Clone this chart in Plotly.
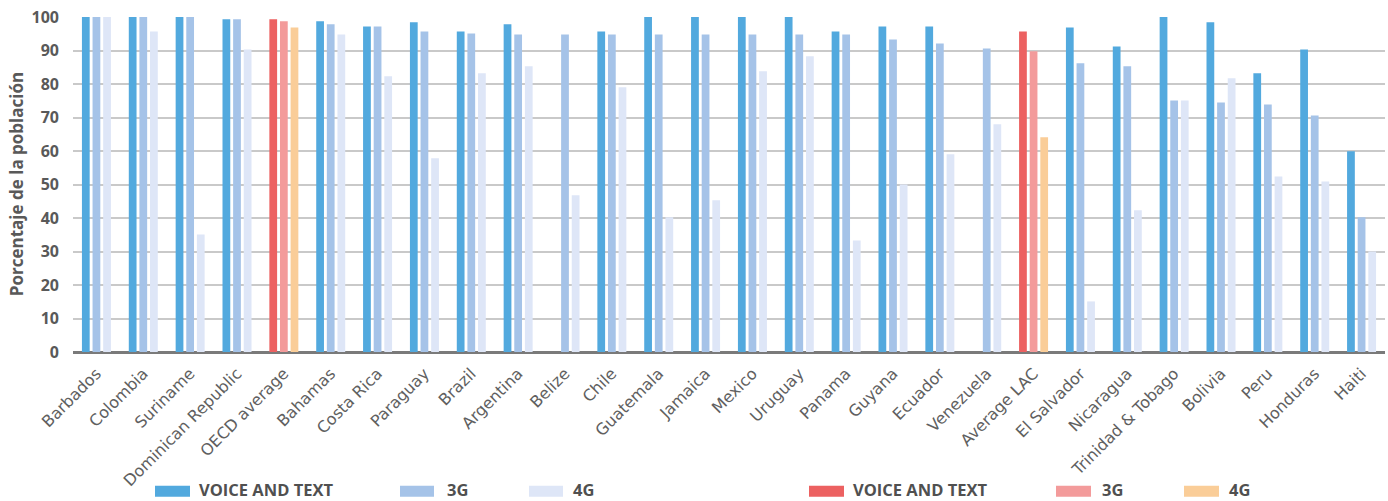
import plotly.graph_objects as go

# Mobile network coverage by country (share of population)
countries = [
    "Barbados", "Colombia", "Suriname", "Dominican Republic", "OECD average",
    "Bahamas", "Costa Rica", "Paraguay", "Brazil", "Argentina", "Belize",
    "Chile", "Guatemala", "Jamaica", "Mexico", "Uruguay", "Panama", "Guyana",
    "Ecuador", "Venezuela", "Average LAC", "El Salvador", "Nicaragua",
    "Trinidad & Tobago", "Bolivia", "Peru", "Honduras", "Haiti",
]
voice_text = [100, 100, 100, 99.3, 99.3, 98.7, 97.2, 98.4, 95.7, 97.8, None,
              95.7, 100, 100, 100, 100, 95.7, 97.2, 97.2, None, 95.7, 96.9,
              91.2, 100, 98.4, 83.2, 90.3, 59.9]
g3 = [100, 100, 100, 99.3, 98.7, 97.8, 97.2, 95.7, 95.1, 94.8, 94.8,
      94.8, 94.8, 94.8, 94.8, 94.8, 94.8, 93.3, 92.1, 90.6, 89.8, 86.2,
      85.3, 75.1, 74.5, 73.9, 70.6, 40.2]
g4 = [100, 95.7, 35.1, 90.3, 96.9, 94.8, 82.3, 57.8, 83.2, 85.3, 46.8,
      79.0, 40.2, 45.3, 83.8, 88.3, 33.3, 50.0, 59.0, 68.0, 64.1, 15.1,
      42.3, 75.1, 81.7, 52.4, 50.9, 30.0]
y_ticks = [0, 10, 20, 30, 40, 50, 60, 70, 80, 90, 100]
legend_labels = ["VOICE AND TEXT", "3G", "4G"]

# Palettes: countries in blues, regional averages in warm tones
blues = ["#52A9DE", "#A5C3E8", "#DEE6F7"]
warms = ["#EC6161", "#F39B9B", "#FACD98"]
averages = {"OECD average", "Average LAC"}


def colors_for(i):
    return [warms[i] if c in averages else blues[i] for c in countries]


fig = go.Figure()
for i, vals in enumerate([voice_text, g3, g4]):
    fig.add_trace(go.Bar(
        x=countries, y=vals, name=legend_labels[i],
        marker=dict(color=colors_for(i), line=dict(width=0)),
        showlegend=False,
    ))

# Legend drawn as wide swatches with bold captions
swatch_px = [(155, 190), (400, 434), (529, 563), (809, 844), (1056, 1091), (1184, 1219)]
text_px = [197, 445, 571, 851, 1100, 1227]
plot_left, plot_w = 73, 1312
plot_bottom, plot_h = 351.7, 336.0


def px_to_paper_x(px):
    return (px - plot_left) / plot_w


def py_to_paper_y(py):
    return (plot_bottom - py) / plot_h


swatch_colors = blues + warms
for k in range(6):
    x0, x1 = swatch_px[k]
    fig.add_shape(type="rect", xref="paper", yref="paper",
                  x0=px_to_paper_x(x0), x1=px_to_paper_x(x1),
                  y0=py_to_paper_y(496.5), y1=py_to_paper_y(485.5),
                  fillcolor=swatch_colors[k], line=dict(width=0))
    fig.add_annotation(xref="paper", yref="paper",
                       x=px_to_paper_x(text_px[k]), y=py_to_paper_y(489.5),
                       text=legend_labels[k % 3], showarrow=False,
                       xanchor="left", yanchor="middle",
                       font=dict(family="Open Sans", size=16.5, color="#505050",
                                 weight="bold"))

fig.update_layout(
    width=1388, height=501,
    margin=dict(l=73, r=3, t=16, b=149),
    paper_bgcolor="white", plot_bgcolor="white",
    barmode="group", bargap=0.32, bargroupgap=0.27,
)
fig.update_xaxes(
    tickangle=-45,
    tickfont=dict(family="DejaVu Sans", size=16, color="#606060"),
    ticklabelstandoff=4,
    showline=True, linecolor="#7a7a7a", linewidth=2,
    showgrid=False, ticks="",
)
fig.update_yaxes(
    range=[0, 100.3], tickvals=y_ticks,
    tickfont=dict(family="Open Sans", size=16, color="#595959", weight="bold"),
    ticklabelstandoff=13,
    gridcolor="#C9C9C9", gridwidth=1.5,
    zeroline=True, zerolinecolor="#7a7a7a", zerolinewidth=2,
    title=dict(text="Porcentaje de la población", standoff=3,
               font=dict(family="Open Sans", size=17, color="#595959",
                         weight="bold")),
)

fig.write_html("out.html")
